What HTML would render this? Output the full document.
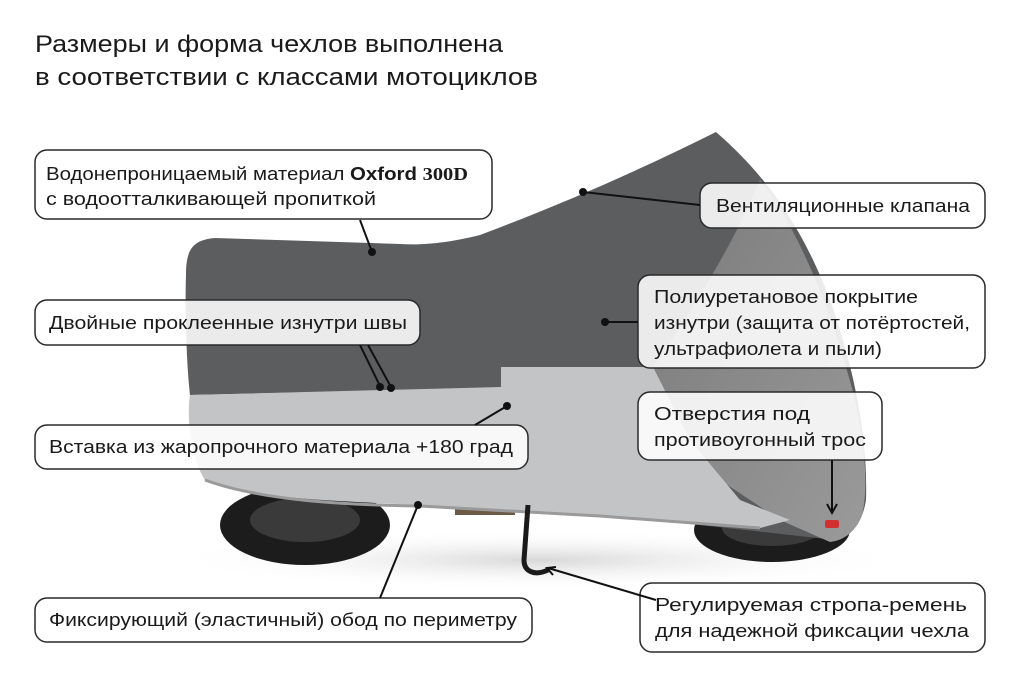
<!DOCTYPE html>
<html><head><meta charset="utf-8"><style>
html,body{margin:0;padding:0;background:#fff;}
svg{display:block;}
text{font-family:"Liberation Sans","DejaVu Sans",sans-serif;fill:#1a1a1a;}
</style></head><body>
<svg width="1024" height="683" viewBox="0 0 1024 683" xmlns="http://www.w3.org/2000/svg">
<defs>
<radialGradient id="sh" cx="0.5" cy="0.5" r="0.5"><stop offset="0" stop-color="#d8d8d8"/><stop offset="1" stop-color="#fff" stop-opacity="0"/></radialGradient>
<linearGradient id="rg" x1="0" y1="0" x2="1" y2="1"><stop offset="0" stop-color="#7a7a7a"/><stop offset="1" stop-color="#9a9a9a"/></linearGradient>
</defs>
<rect width="1024" height="683" fill="#fff"/>
<text x="35" y="52" font-size="24" textLength="468" lengthAdjust="spacingAndGlyphs">Размеры и форма чехлов выполнена</text>
<text x="35" y="85" font-size="24" textLength="503" lengthAdjust="spacingAndGlyphs">в соответствии с классами мотоциклов</text>

<ellipse cx="540" cy="560" rx="380" ry="30" fill="url(#sh)"/>
<ellipse cx="305" cy="525" rx="85" ry="40" fill="#1c1c1c"/>
<ellipse cx="305" cy="520" rx="55" ry="22" fill="#3a3a3a"/>
<ellipse cx="772" cy="530" rx="78" ry="32" fill="#1c1c1c"/>
<ellipse cx="772" cy="528" rx="50" ry="18" fill="#3a3a3a"/>
<rect x="455" y="500" width="60" height="15" fill="#6b5a45"/>
<path d="M186,275 C186,250 192,240 215,238 L400,244 C430,246 460,240 480,235 C560,205 640,170 716,132 C760,170 800,220 830,300 C855,370 868,440 866,500 C862,525 850,537 835,540 L700,525 L600,390 L500,388 L190,395 C186,360 185,300 186,275 Z" fill="#5c5d5f"/>
<path d="M653,367 C700,300 740,230 760,180 C800,230 835,320 855,400 C866,450 868,490 862,515 C855,532 845,540 830,542 L780,520 L690,460 Z" fill="url(#rg)"/>
<path d="M190,395 L501,387 L501,367 L653,367 L690,440 L740,500 L790,520 L760,528 L600,515 L420,505 C300,500 230,495 205,480 C192,460 186,420 190,395 Z" fill="#c3c4c6"/>
<path d="M205,480 C260,500 340,505 420,506 L600,516 L760,528" fill="none" stroke="#9a9a9a" stroke-width="3"/>
<rect x="825" y="520" width="14" height="8" rx="2" fill="#d03030"/>
<path d="M528,505 L524,560 C524,572 535,576 548,570" fill="none" stroke="#1a1a1a" stroke-width="5"/>

<g fill="rgba(255,255,255,0.88)" stroke="#2a2a2a" stroke-width="1.5">
<rect x="35" y="150" width="457" height="69" rx="12"/>
<rect x="700" y="183" width="285" height="45" rx="12"/>
<rect x="35" y="300" width="385" height="45" rx="12"/>
<rect x="638" y="275" width="347" height="93" rx="12"/>
<rect x="35" y="425" width="493" height="44" rx="12"/>
<rect x="638" y="392" width="244" height="68" rx="12"/>
<rect x="35" y="598" width="497" height="44" rx="12"/>
<rect x="640" y="583" width="345" height="69" rx="12"/>
</g>

<g stroke="#111" stroke-width="2" fill="none">
<line x1="360" y1="220" x2="372" y2="252"/>
<line x1="700" y1="205" x2="583" y2="192"/>
<line x1="360" y1="345" x2="380" y2="386"/>
<line x1="368" y1="345" x2="391" y2="387"/>
<line x1="638" y1="322" x2="605" y2="322"/>
<line x1="475" y1="425" x2="507" y2="406"/>
<line x1="832" y1="460" x2="832" y2="512"/>
<polyline points="827,504 832,513 837,504"/>
<line x1="380" y1="598" x2="418" y2="505"/>
<line x1="656" y1="600" x2="548" y2="568"/>
<polyline points="556,567 547,568 553,575"/>
</g>
<g fill="#111">
<circle cx="372" cy="252" r="4"/><circle cx="583" cy="192" r="4"/>
<circle cx="380" cy="387" r="4"/><circle cx="391" cy="388" r="4"/>
<circle cx="605" cy="322" r="4"/><circle cx="507" cy="406" r="4"/>
<circle cx="418" cy="505" r="4"/>
</g>

<g font-size="18">
<text x="46" y="180" textLength="422" lengthAdjust="spacingAndGlyphs">Водонепроницаемый материал <tspan font-weight="bold">Oxford</tspan> <tspan font-family="Liberation Serif" font-weight="bold">300D</tspan></text>
<text x="46" y="205" textLength="330" lengthAdjust="spacingAndGlyphs">с водоотталкивающей пропиткой</text>
<text x="716" y="212" textLength="254" lengthAdjust="spacingAndGlyphs">Вентиляционные клапана</text>
<text x="49" y="329" textLength="358" lengthAdjust="spacingAndGlyphs">Двойные проклеенные изнутри швы</text>
<text x="654" y="303" textLength="264" lengthAdjust="spacingAndGlyphs">Полиуретановое покрытие</text>
<text x="654" y="329" textLength="316" lengthAdjust="spacingAndGlyphs">изнутри (защита от потёртостей,</text>
<text x="654" y="355" textLength="228" lengthAdjust="spacingAndGlyphs">ультрафиолета и пыли)</text>
<text x="49" y="453" textLength="464" lengthAdjust="spacingAndGlyphs">Вставка из жаропрочного материала +180 град</text>
<text x="654" y="420" textLength="156" lengthAdjust="spacingAndGlyphs">Отверстия под</text>
<text x="654" y="446" textLength="212" lengthAdjust="spacingAndGlyphs">противоугонный трос</text>
<text x="49" y="626" textLength="468" lengthAdjust="spacingAndGlyphs">Фиксирующий (эластичный) обод по периметру</text>
<text x="655" y="611" textLength="312" lengthAdjust="spacingAndGlyphs">Регулируемая стропа-ремень</text>
<text x="655" y="637" textLength="314" lengthAdjust="spacingAndGlyphs">для надежной фиксации чехла</text>
</g>
</svg>
</body></html>
